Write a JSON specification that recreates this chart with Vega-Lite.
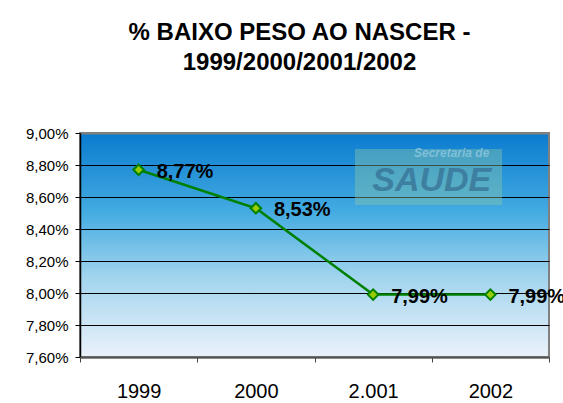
{
  "$schema": "https://vega.github.io/schema/vega-lite/v6.json",
  "width": 469,
  "height": 224,
  "autosize": "none",
  "padding": {"left": 80, "top": 133, "right": 14, "bottom": 46},
  "background": "white",
  "config": {
    "font": "Liberation Sans",
    "locale": {"number": {"decimal": ",", "thousands": ".", "grouping": [3], "currency": ["R$", ""]}},
    "view": {
      "stroke": "#808080",
      "strokeWidth": 2,
      "fill": {
        "gradient": "linear", "x1": 0, "y1": 0, "x2": 0, "y2": 1,
        "stops": [
          {"offset": 0, "color": "#0a7bcf"},
          {"offset": 0.35, "color": "#43abe1"},
          {"offset": 0.65, "color": "#a3d5ee"},
          {"offset": 1, "color": "#ebf1fa"}
        ]
      }
    }
  },
  "title": {
    "text": ["% BAIXO PESO AO NASCER -", "1999/2000/2001/2002"],
    "font": "Liberation Sans",
    "fontSize": 24,
    "fontWeight": "bold",
    "color": "black",
    "lineHeight": 30,
    "anchor": "middle",
    "frame": "group",
    "dx": -15,
    "offset": 51
  },
  "data": {
    "values": [
      {"ano": "1999", "pct": 0.0877},
      {"ano": "2000", "pct": 0.0853},
      {"ano": "2.001", "pct": 0.0799},
      {"ano": "2002", "pct": 0.0799}
    ]
  },
  "encoding": {
    "x": {
      "field": "ano", "type": "nominal", "sort": null,
      "scale": {"type": "band", "domain": ["1999", "2000", "2.001", "2002"], "paddingInner": 0, "paddingOuter": 0},
      "axis": {
        "title": null, "labelAngle": 0, "labelFontSize": 20, "labelColor": "black",
        "labelFont": "Liberation Sans", "labelPadding": 19,
        "tickBand": "extent", "tickSize": 5, "tickColor": "#444", "domainColor": "#555", "domainWidth": 2,
        "grid": false
      }
    },
    "y": {
      "field": "pct", "type": "quantitative",
      "scale": {"domain": [0.076, 0.09], "zero": false, "nice": false},
      "axis": {
        "title": null, "format": ".2%",
        "values": [0.076, 0.078, 0.08, 0.082, 0.084, 0.086, 0.088, 0.09],
        "labelFontSize": 15, "labelColor": "black", "labelFont": "Liberation Sans", "labelPadding": 7,
        "tickSize": 5, "tickColor": "black", "domainColor": "black", "domainWidth": 1.5,
        "grid": true,
        "gridColor": {"condition": {"test": "datum.value >= 0.0899 || datum.value <= 0.0761", "value": "#808080"}, "value": "black"},
        "gridWidth": {"condition": {"test": "datum.value >= 0.0899 || datum.value <= 0.0761", "value": 2}, "value": 1},
        "gridOpacity": 1
      }
    }
  },
  "layer": [
    {
      "transform": [{"filter": "datum.ano == '1999'"}],
      "mark": {"type": "rect", "fill": "#8fc8a6", "opacity": 0.4},
      "encoding": {
        "x": {"datum": "2.001", "bandPosition": 0.345},
        "x2": {"datum": "2002", "bandPosition": 0.6},
        "y": {"datum": 0.089},
        "y2": {"datum": 0.0855}
      }
    },
    {
      "transform": [{"filter": "datum.ano == '1999'"}],
      "mark": {"type": "text", "text": "SAUDE", "font": "Liberation Sans", "fontSize": 34, "fontWeight": "bold", "fontStyle": "italic", "color": "#3a789a", "opacity": 0.85, "align": "center", "baseline": "middle"},
      "encoding": {
        "x": {"datum": "2002", "bandPosition": 0.0},
        "y": {"datum": 0.0870}
      }
    },
    {
      "transform": [{"filter": "datum.ano == '1999'"}],
      "mark": {"type": "text", "text": "Secretaria de", "font": "Liberation Sans", "fontSize": 12, "fontWeight": "bold", "fontStyle": "italic", "color": "#86c3dc", "opacity": 0.9, "align": "center", "baseline": "middle"},
      "encoding": {
        "x": {"datum": "2002", "bandPosition": 0.17},
        "y": {"datum": 0.08875}
      }
    },
    {
      "mark": {"type": "line", "color": "#008000", "strokeWidth": 2.5}
    },
    {
      "mark": {"type": "point", "shape": "diamond", "filled": true, "fill": "#99cc00", "stroke": "#008000", "strokeWidth": 2, "size": 110, "opacity": 1}
    },
    {
      "mark": {"type": "text", "font": "Liberation Sans", "fontSize": 20, "fontWeight": "bold", "color": "black", "align": "left", "baseline": "middle", "dx": 18, "dy": 2},
      "encoding": {
        "text": {"field": "pct", "type": "quantitative", "format": ".2%"}
      }
    }
  ]
}
